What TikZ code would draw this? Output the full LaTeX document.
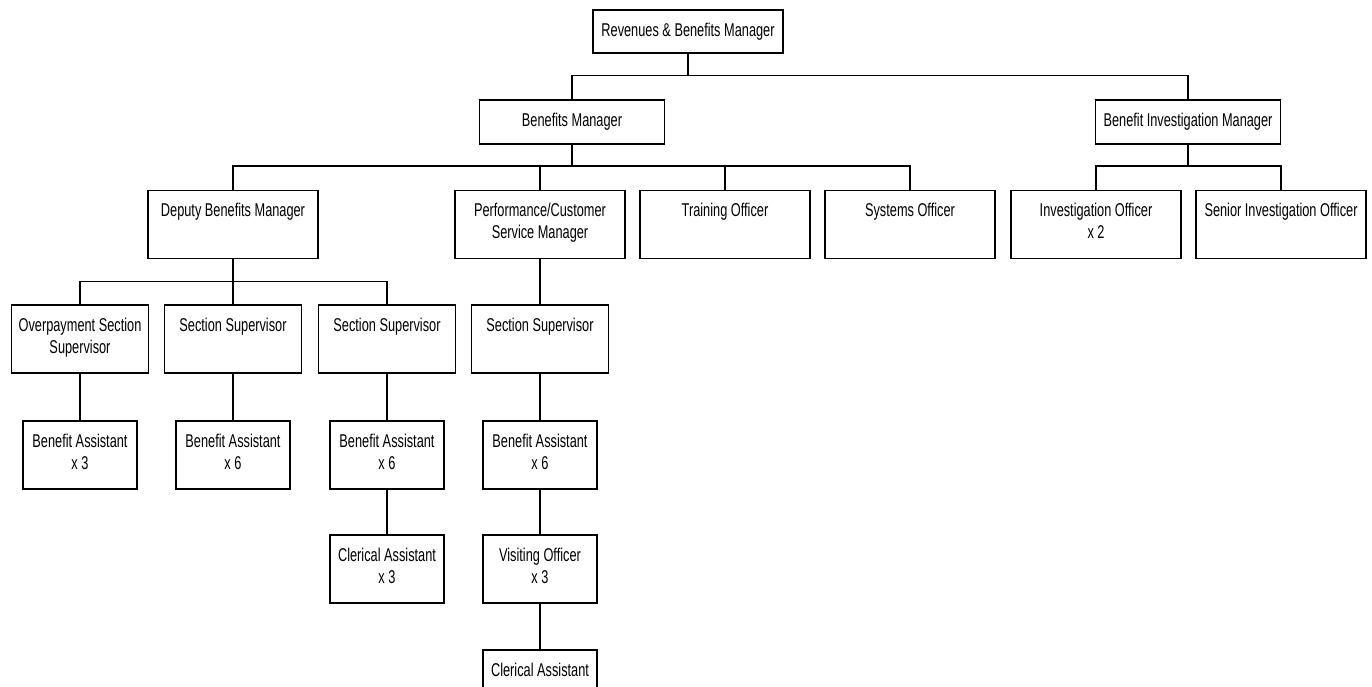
\documentclass[tikz,border=0pt]{standalone}
\usepackage{fontspec}
\setmainfont[FakeStretch=0.69]{Liberation Sans}
\begin{document}
\begin{tikzpicture}[x=1pt,y=-1pt,
  box/.style={draw, rectangle, inner sep=0pt, line width=1.4pt},
  b0/.style={box, minimum width=190pt, minimum height=43pt},
  b1/.style={box, minimum width=185pt, minimum height=44pt},
  b2/.style={box, minimum width=170pt, minimum height=68pt},
  b3/.style={box, minimum width=137pt, minimum height=68pt},
  b4/.style={box, minimum width=114pt, minimum height=68pt},
  txt/.style={anchor=north, yshift=-13.5pt, align=center, inner sep=0pt, font=\fontsize{18.5}{22}\selectfont},
  conn/.style={draw, line width=1.4pt}
]
\fill[white] (0,0) rectangle (1372,686);
\clip (0,0) rectangle (1372,686);
% level 0
\node[b0, label={[txt]north:{Revenues \& Benefits Manager}}] (rbm) at (688,31.5) {};
% level 1
\node[b1, label={[txt]north:{Benefits Manager}}] (bm) at (572,122) {};
\node[b1, label={[txt]north:{Benefit Investigation Manager}}] (bim) at (1188,122) {};
% level 2
\node[b2, label={[txt]north:{Deputy Benefits Manager}}] (dbm) at (233,224.5) {};
\node[b2, label={[txt]north:{Performance/Customer\\Service Manager}}] (pcsm) at (540,224.5) {};
\node[b2, label={[txt]north:{Training Officer}}] (tro) at (725,224.5) {};
\node[b2, label={[txt]north:{Systems Officer}}] (syo) at (910,224.5) {};
\node[b2, label={[txt]north:{Investigation Officer\\x 2}}] (io) at (1096,224.5) {};
\node[b2, label={[txt]north:{Senior Investigation Officer}}] (sio) at (1281,224.5) {};
% level 3
\node[b3, label={[txt]north:{Overpayment Section\\Supervisor}}] (ops) at (80,339) {};
\node[b3, label={[txt]north:{Section Supervisor}}] (ss1) at (233,339) {};
\node[b3, label={[txt]north:{Section Supervisor}}] (ss2) at (387,339) {};
\node[b3, label={[txt]north:{Section Supervisor}}] (ss3) at (540,339) {};
% level 4
\node[b4, label={[txt]north:{Benefit Assistant\\x 3}}] (ba1) at (80,455) {};
\node[b4, label={[txt]north:{Benefit Assistant\\x 6}}] (ba2) at (233,455) {};
\node[b4, label={[txt]north:{Benefit Assistant\\x 6}}] (ba3) at (387,455) {};
\node[b4, label={[txt]north:{Benefit Assistant\\x 6}}] (ba4) at (540,455) {};
% level 5
\node[b4, label={[txt]north:{Clerical Assistant\\x 3}}] (ca1) at (387,569) {};
\node[b4, label={[txt]north:{Visiting Officer\\x 3}}] (vo) at (540,569) {};
% level 6
\node[b4, label={[txt]north:{Clerical Assistant}}] (ca2) at (540,684) {};
% connectors
\draw[conn] (bm.north) -- ++(0,-24) -| (rbm.south);
\draw[conn] (bim.north) -- ++(0,-24) -| (rbm.south);
\foreach \n in {dbm,pcsm,tro,syo}{\draw[conn] (\n.north) -- ++(0,-24) -| (bm.south);}
\foreach \n in {io,sio}{\draw[conn] (\n.north) -- ++(0,-24) -| (bim.south);}
\foreach \n in {ops,ss1,ss2}{\draw[conn] (\n.north) -- ++(0,-23) -| (dbm.south);}
\draw[conn] (pcsm.south) -- (ss3.north);
\draw[conn] (ops.south) -- (ba1.north);
\draw[conn] (ss1.south) -- (ba2.north);
\draw[conn] (ss2.south) -- (ba3.north);
\draw[conn] (ss3.south) -- (ba4.north);
\draw[conn] (ba3.south) -- (ca1.north);
\draw[conn] (ba4.south) -- (vo.north);
\draw[conn] (vo.south) -- (ca2.north);
\end{tikzpicture}
\end{document}
